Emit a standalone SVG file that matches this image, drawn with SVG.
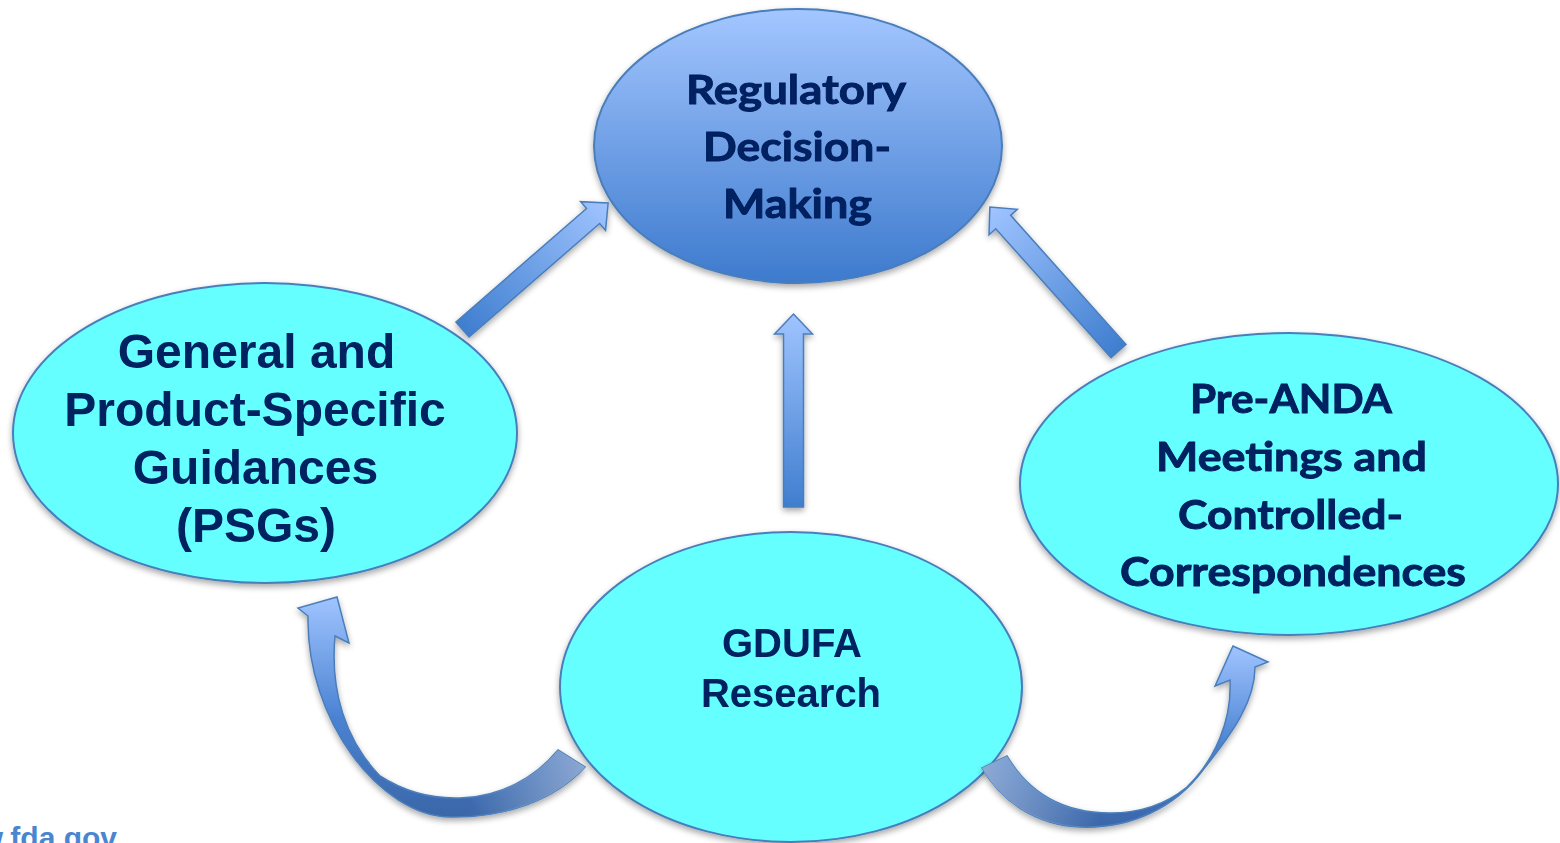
<svg xmlns="http://www.w3.org/2000/svg" width="1560" height="843" viewBox="0 0 1560 843">
<defs>
<style>
.cal{font-family:Lato,"Open Sans","Noto Sans",sans-serif;font-weight:700;fill:#002060;stroke:#002060;stroke-width:0.9;text-anchor:middle;font-size:41px}
.ari{font-family:"Liberation Sans",Arial,sans-serif;font-weight:700;fill:#002060;text-anchor:middle}
.cyan{fill:#66ffff;stroke:#4a7ebb;stroke-width:2}
.arr{stroke:#4a7ebb;stroke-width:1.5;stroke-linejoin:miter}
</style>
<linearGradient id="topG" x1="0" y1="0" x2="0" y2="1">
<stop offset="0" stop-color="#a3c6ff"/>
<stop offset="1" stop-color="#3d7acd"/>
</linearGradient>
<linearGradient id="arrG" x1="0" y1="0" x2="1" y2="0">
<stop offset="0" stop-color="#3f7ecf"/>
<stop offset="1" stop-color="#a0c4ff"/>
</linearGradient>
<linearGradient id="curvL" gradientUnits="userSpaceOnUse" x1="0" y1="597" x2="0" y2="818">
<stop offset="0" stop-color="#a0c4ff"/>
<stop offset="0.55" stop-color="#4a82d2"/>
<stop offset="1" stop-color="#3a66a8"/>
</linearGradient>
<linearGradient id="curvR" gradientUnits="userSpaceOnUse" x1="0" y1="646" x2="0" y2="828">
<stop offset="0" stop-color="#a0c4ff"/>
<stop offset="0.55" stop-color="#4a82d2"/>
<stop offset="1" stop-color="#3a66a8"/>
</linearGradient>
<linearGradient id="fadeL" gradientUnits="userSpaceOnUse" x1="470" y1="0" x2="585" y2="0">
<stop offset="0" stop-color="#c8d0e0" stop-opacity="0"/>
<stop offset="1" stop-color="#c8d0e0" stop-opacity="0.55"/>
</linearGradient>
<linearGradient id="fadeR" gradientUnits="userSpaceOnUse" x1="1100" y1="0" x2="982" y2="0">
<stop offset="0" stop-color="#c8d0e0" stop-opacity="0"/>
<stop offset="1" stop-color="#c8d0e0" stop-opacity="0.55"/>
</linearGradient>
<filter id="sh" x="-10%" y="-10%" width="120%" height="130%">
<feGaussianBlur in="SourceAlpha" stdDeviation="3"/>
<feOffset dx="0" dy="3" result="b"/>
<feComponentTransfer><feFuncA type="linear" slope="0.35"/></feComponentTransfer>
<feMerge><feMergeNode/><feMergeNode in="SourceGraphic"/></feMerge>
</filter>
<path id="sa" d="M0,-10 L173,-10 L173,-19 L193,0 L173,19 L173,10 L0,10 Z"/>
</defs>
<rect width="1560" height="843" fill="#ffffff"/>

<g id="node-regulatory" filter="url(#sh)">
<ellipse cx="798" cy="146" rx="204" ry="137" fill="url(#topG)" stroke="#4a7ebb" stroke-width="2"/>
<text class="cal" x="796" y="104" textLength="220" lengthAdjust="spacingAndGlyphs">Regulatory</text>
<text class="cal" x="797" y="161" textLength="188" lengthAdjust="spacingAndGlyphs">Decision-</text>
<text class="cal" x="797.5" y="218" textLength="149" lengthAdjust="spacingAndGlyphs">Making</text>
</g>

<g id="node-guidances" filter="url(#sh)">
<ellipse class="cyan" cx="265" cy="433" rx="252" ry="150"/>
<text class="ari" x="256.5" y="368" font-size="48">General and</text>
<text class="ari" x="255" y="426" font-size="48">Product-Specific</text>
<text class="ari" x="255.5" y="484" font-size="48">Guidances</text>
<text class="ari" x="256" y="542" font-size="48">(PSGs)</text>
</g>

<g id="node-preanda" filter="url(#sh)">
<ellipse class="cyan" cx="1289" cy="484" rx="269" ry="151"/>
<text class="cal" x="1291" y="413" textLength="202" lengthAdjust="spacingAndGlyphs">Pre-ANDA</text>
<text class="cal" x="1291.5" y="471" textLength="271" lengthAdjust="spacingAndGlyphs">Meetings and</text>
<text class="cal" x="1290.5" y="529" textLength="225" lengthAdjust="spacingAndGlyphs">Controlled-</text>
<text class="cal" x="1293" y="586" textLength="346" lengthAdjust="spacingAndGlyphs">Correspondences</text>
</g>

<g id="node-gdufa" filter="url(#sh)">
<ellipse class="cyan" cx="791" cy="687" rx="231" ry="155"/>
<text class="ari" x="792" y="657" font-size="40">GDUFA</text>
<text class="ari" x="791" y="707" font-size="40">Research</text>
</g>

<g id="connectors">
<g filter="url(#sh)">
<use href="#sa" class="arr" fill="url(#arrG)" transform="translate(462.5,329.5) rotate(-41)"/>
</g>
<g filter="url(#sh)">
<use href="#sa" class="arr" fill="url(#arrG)" transform="translate(1118.5,351) rotate(-131.8)"/>
</g>
<g filter="url(#sh)">
<use href="#sa" class="arr" fill="url(#arrG)" transform="translate(793.5,507) rotate(-90)"/>
</g>
<g filter="url(#sh)">
<path class="arr" fill="url(#curvL)" d="M558,750 L585,767 C555,800 505,818 450,817 C380,816 306,720 308,616 L298,608 L337,597 L349,643 L335,636 C330,690 345,740 380,776 C405,792 430,799 460,798 C500,797 535,778 558,750 Z"/>
<path fill="url(#fadeL)" d="M558,750 L585,767 C555,800 505,818 450,817 C380,816 306,720 308,616 L298,608 L337,597 L349,643 L335,636 C330,690 345,740 380,776 C405,792 430,799 460,798 C500,797 535,778 558,750 Z"/>
</g>
<g filter="url(#sh)">
<path class="arr" fill="url(#curvR)" d="M1007,756 L982,768 C1000,800 1035,825 1080,827 C1130,829 1175,808 1203,770 C1235,730 1255,700 1255,667 L1268,662 L1233,646 L1215,686 L1230,680 C1232,720 1215,760 1187,787 C1165,805 1140,813 1110,813 C1065,813 1030,795 1007,756 Z"/>
<path fill="url(#fadeR)" d="M1007,756 L982,768 C1000,800 1035,825 1080,827 C1130,829 1175,808 1203,770 C1235,730 1255,700 1255,667 L1268,662 L1233,646 L1215,686 L1230,680 C1232,720 1215,760 1187,787 C1165,805 1140,813 1110,813 C1065,813 1030,795 1007,756 Z"/>
</g>
</g>

<text x="117" y="848" font-family="'Liberation Sans',Arial,sans-serif" font-weight="700" font-size="30" fill="#4a86d0" text-anchor="end">www.fda.gov</text>
</svg>
